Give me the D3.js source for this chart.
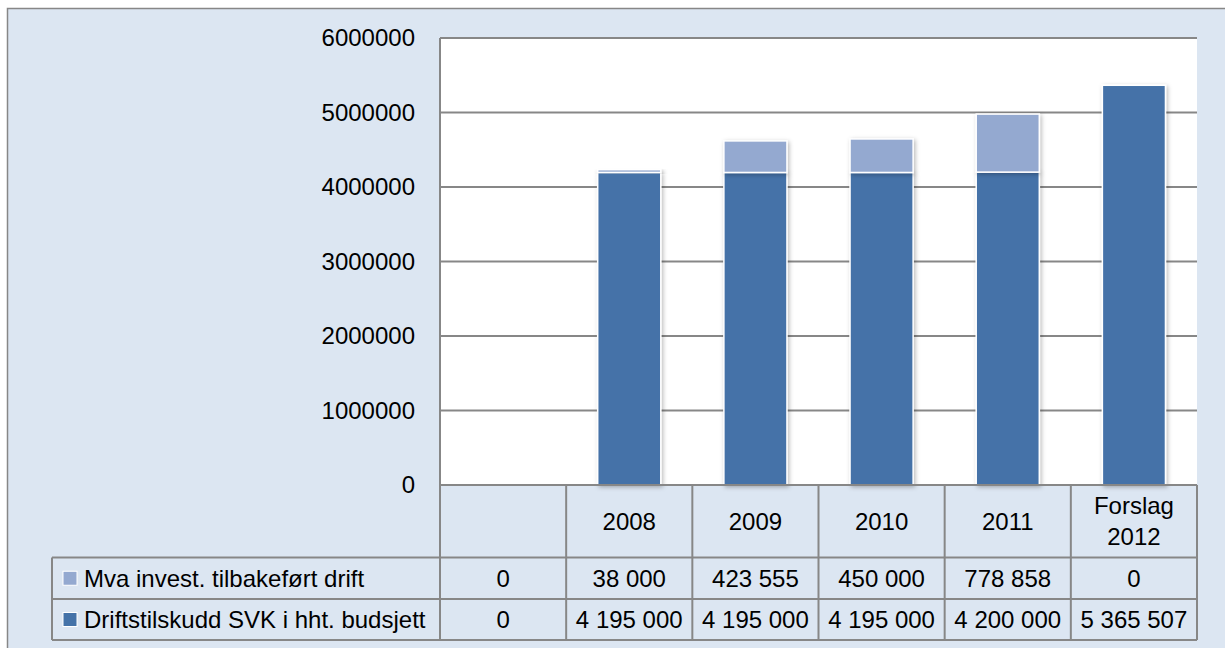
<!DOCTYPE html>
<html><head><meta charset="utf-8">
<script src="https://cdn.jsdelivr.net/npm/d3@7"></script>
<style>body{margin:0;background:#fff;}svg{display:block;font-family:"Liberation Sans",Arial,sans-serif;}</style>
</head><body>
<svg id="c" width="1225" height="648"></svg>
<script>
const categories = ["", "2008", "2009", "2010", "2011", "Forslag\n2012"];
const seriesNames = ["Mva invest. tilbakeført drift", "Driftstilskudd SVK i hht. budsjett"];
const mva = [0, 38000, 423555, 450000, 778858, 0];
const drift = [0, 4195000, 4195000, 4195000, 4200000, 5365507];
const tableMva = ["0", "38 000", "423 555", "450 000", "778 858", "0"];
const tableDrift = ["0", "4 195 000", "4 195 000", "4 195 000", "4 200 000", "5 365 507"];
const yTicks = [0, 1000000, 2000000, 3000000, 4000000, 5000000, 6000000];
const colors = {mva: "#94a9d0", drift: "#4472a8"};

const svg = d3.select("#c");
const defs = svg.append("defs");
const f = defs.append("filter").attr("id","sh").attr("x","-20%").attr("y","-20%").attr("width","140%").attr("height","140%");
f.append("feDropShadow").attr("dx",1.5).attr("dy",1.5).attr("stdDeviation",2).attr("flood-color","#000").attr("flood-opacity",0.28);

// background
svg.append("rect").attr("x",7.5).attr("y",8.5).attr("width",1240).attr("height",660)
  .attr("fill","#dce6f2").attr("stroke","#878787").attr("stroke-width",1.5);

const L = 440, R = 1197, T = 38, B = 485;
const x = d3.scaleBand().domain(d3.range(categories.length)).range([L, R]).paddingInner(0.5).paddingOuter(0.25);
const xc = d3.scaleBand().domain(d3.range(categories.length)).range([L, R]);
const y = d3.scaleLinear().domain([0, 6000000]).range([B, T]);

svg.append("rect").attr("x",L).attr("y",T).attr("width",R-L).attr("height",B-T).attr("fill","#fff");

// grid
svg.append("g").selectAll("line").data(yTicks).join("line")
  .attr("x1",L).attr("x2",R).attr("y1",d=>y(d)).attr("y2",d=>y(d))
  .attr("stroke","#878787").attr("stroke-width",2);

// y axis labels
const yAxis = d3.axisLeft(y).tickValues(yTicks).tickSize(0).tickPadding(25).tickFormat(d3.format("d"));
const ga = svg.append("g").attr("transform",`translate(${L},0)`).call(yAxis);
ga.select(".domain").remove();
ga.selectAll("text").attr("font-size",24).attr("fill","#000").attr("font-family","Liberation Sans, Arial, sans-serif");

// bars
const data = categories.map((c,i)=>({i, drift: drift[i], mva: mva[i]}));
const stack = d3.stack().keys(["drift","mva"])(data);
const bars = svg.append("g");
stack.forEach(layer=>{
  bars.selectAll(null).data(layer.filter(d=>d[1]-d[0]>0)).join("rect")
    .attr("x",d=>x(d.data.i)).attr("width",x.bandwidth())
    .attr("y",d=>y(d[1])).attr("height",d=>y(d[0])-y(d[1]))
    .attr("fill",colors[layer.key]).attr("stroke","#fff").attr("stroke-width",1.5)
    .attr("filter","url(#sh)");
});

// axis vertical line
svg.append("line").attr("x1",L).attr("x2",L).attr("y1",T).attr("y2",640).attr("stroke","#878787").attr("stroke-width",2);

// data table
const rowsY = [B, 557.5, 599, 640];
const tg = svg.append("g").attr("stroke","#878787").attr("stroke-width",2);
// horizontal lines
tg.append("line").attr("x1",L).attr("x2",R).attr("y1",B).attr("y2",B);
[557.5, 599, 640].forEach(v=>tg.append("line").attr("x1",52).attr("x2",R).attr("y1",v).attr("y2",v));
// vertical lines
d3.range(categories.length+1).forEach(i=>{
  const xv = L + xc.step()*i;
  tg.append("line").attr("x1",xv).attr("x2",xv).attr("y1",B).attr("y2",640);
});
tg.append("line").attr("x1",52).attr("x2",52).attr("y1",557.5).attr("y2",640);

const txt = svg.append("g").attr("font-size",24).attr("fill","#000").attr("text-anchor","middle");
categories.forEach((c,i)=>{
  const cx = xc(i)+xc.bandwidth()/2;
  const lines = c.split("\n");
  const mid = (rowsY[0]+rowsY[1])/2;
  lines.forEach((ln,k)=>{
    txt.append("text").attr("x",cx).attr("y",mid + (k-(lines.length-1)/2)*31).attr("dy","0.35em").text(ln);
  });
  txt.append("text").attr("x",cx).attr("y",(rowsY[1]+rowsY[2])/2).attr("dy","0.35em").text(tableMva[i]);
  txt.append("text").attr("x",cx).attr("y",(rowsY[2]+rowsY[3])/2).attr("dy","0.35em").text(tableDrift[i]);
});

// legend cells
const lg = svg.append("g");
[["mva",0],["drift",1]].forEach(([k,j])=>{
  const cy = (rowsY[j+1]+rowsY[j+2])/2;
  lg.append("rect").attr("x",63).attr("y",cy-7).attr("width",14).attr("height",14)
    .attr("fill",colors[k]).attr("stroke","#fff").attr("stroke-width",1);
  lg.append("text").attr("x",84).attr("y",cy).attr("dy","0.35em").attr("font-size",24).attr("fill","#000").text(seriesNames[j]);
});
</script>
</body></html>
